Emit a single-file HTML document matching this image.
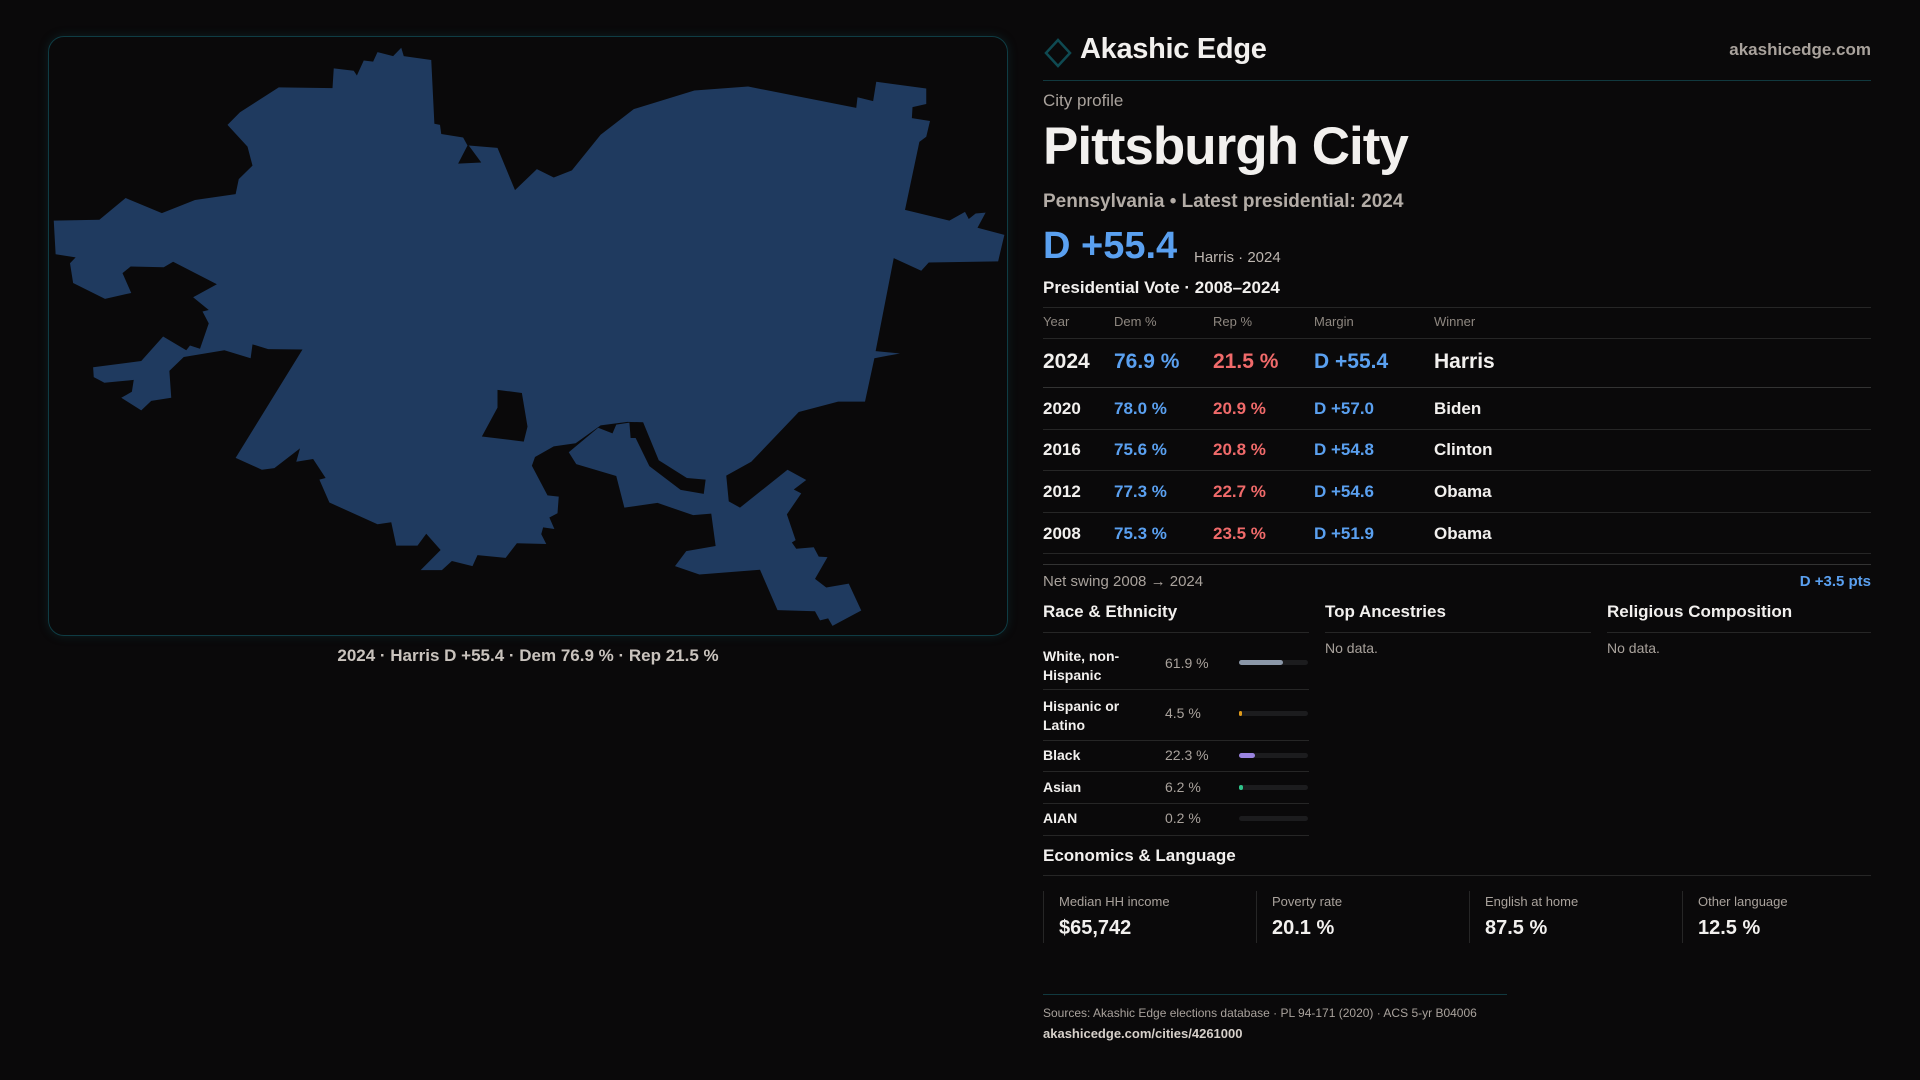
<!DOCTYPE html>
<html><head><meta charset="utf-8"><style>
*{margin:0;padding:0;box-sizing:border-box}
body{width:1920px;height:1080px;background:#0a090a;font-family:"Liberation Sans",sans-serif;color:#f2f0ee;position:relative;overflow:hidden}
.a{position:absolute;white-space:nowrap;line-height:1}
.panel{position:absolute;left:48px;top:36px;width:960px;height:600px;border:1px solid #0f3c44;border-radius:16px;box-shadow:0 0 10px rgba(20,90,100,.25)}
.hl{position:absolute;height:1px;background:#262626}
.blue{color:#5aa0f0}.red{color:#f06a6a}.muted{color:#a9a29c}
.bar{position:absolute;left:1239px;width:69px;height:5px;border-radius:3px;background:#1c1c1e}
.bar i{position:absolute;left:0;top:0;height:5px;border-radius:3px}
.card{position:absolute;top:891px;height:52px;border-left:1px solid #262626}
</style></head><body>
<div class="panel"></div>
<svg style="position:absolute;left:40px;top:30px" width="980" height="620" viewBox="0 0 1568 1568" preserveAspectRatio="none">
<path fill="#1f3a5f" fill-rule="evenodd" d="M22,482 L95,480 137,425 195,463 248,430 313,415 318,377 340,343 332,295 300,240 320,208 382,145 468,147 470,97 502,103 507,115 518,77 533,80 540,56 565,66 578,45 582,66 626,76 631,237 640,240 642,263 677,272 684,292 669,338 706,335 686,292 732,298 760,405 795,352 822,373 851,355 897,265 950,200 1047,153 1133,143 1306,197 1308,170 1333,180 1338,131 1418,148 1418,187 1396,195 1395,223 1424,230 1418,270 1407,283 1384,455 1455,482 1480,460 1486,478 1497,464 1513,462 1500,500 1543,518 1533,585 1422,588 1410,609 1366,577 1337,812 1376,818 1335,830 1320,940 1277,940 1214,966 1138,1092 1098,1127 1102,1192 1120,1208 1196,1112 1226,1138 1206,1162 1218,1172 1195,1225 1209,1290 1203,1296 1210,1312 1238,1308 1246,1332 1260,1333 1240,1388 1258,1410 1294,1400 1314,1468 1268,1507 1261,1488 1248,1493 1240,1470 1180,1467 1152,1365 1055,1377 1016,1356 1034,1318 1081,1305 1074,1223 1045,1227 988,1196 935,1208 922,1128 858,1098 846,1068 893,1006 916,1020 922,998 943,993 945,1032 953,1032 975,1103 1025,1163 1062,1173 1065,1137 1035,1133 990,1088 965,992 940,991 897,1000 857,1045 822,1053 792,1080 787,1102 812,1177 830,1180 828,1222 815,1233 823,1262 805,1258 802,1275 810,1300 763,1298 745,1335 700,1328 692,1356 659,1343 643,1366 609,1366 641,1315 618,1274 604,1304 570,1304 562,1245 540,1250 463,1195 447,1137 457,1133 437,1085 410,1092 416,1058 375,1108 355,1112 313,1082 420,808 365,807 340,795 337,830 295,810 230,827 207,862 210,930 178,938 162,962 130,930 147,915 150,885 103,892 86,878 85,853 162,837 197,775 234,810 240,798 256,806 270,742 260,712 270,708 245,676 283,643 213,586 198,600 145,598 132,615 146,665 104,680 53,640 48,590 57,575 25,567 Z M732,910 L771,918 780,1003 774,1041 707,1028 732,955 Z"/>
</svg>
<div class="a muted" style="left:0;width:1056px;text-align:center;top:647px;font-size:17px;font-weight:bold;color:#c9c3bd">2024 · Harris D +55.4 · Dem 76.9 % · Rep 21.5 %</div>

<svg style="position:absolute;left:1044px;top:38px" width="28" height="30"><polygon points="14,2 26,15 14,28 2,15" fill="none" stroke="#0f4a52" stroke-width="2.5"/></svg>
<div class="a" style="left:1080px;top:35px;font-size:29px;font-weight:bold;letter-spacing:-0.3px">Akashic Edge</div>
<div class="a" style="right:49px;top:41px;font-size:17px;font-weight:bold;color:#a9a29c">akashicedge.com</div>
<div class="hl" style="left:1043px;width:828px;top:80px;background:#11393f"></div>
<div class="a muted" style="left:1043px;top:92px;font-size:17px">City profile</div>
<div class="a" style="left:1043px;top:120px;font-size:53px;font-weight:bold;letter-spacing:-1px">Pittsburgh City</div>
<div class="a" style="left:1043px;top:192px;font-size:19px;font-weight:bold;color:#b3aca6">Pennsylvania • Latest presidential: 2024</div>
<div class="a blue" style="left:1043px;top:227px;font-size:38px;font-weight:bold">D +55.4</div>
<div class="a muted" style="left:1194px;top:250px;font-size:15px;color:#bdb6b0">Harris · 2024</div>
<div class="a" style="left:1043px;top:279px;font-size:17px;font-weight:bold">Presidential Vote · 2008–2024</div>
<div class="hl" style="left:1043px;width:828px;top:307px"></div>
<div class="a" style="left:1043px;top:315px;font-size:13px;color:#8e8780">Year</div>
<div class="a" style="left:1114px;top:315px;font-size:13px;color:#8e8780">Dem %</div>
<div class="a" style="left:1213px;top:315px;font-size:13px;color:#8e8780">Rep %</div>
<div class="a" style="left:1314px;top:315px;font-size:13px;color:#8e8780">Margin</div>
<div class="a" style="left:1434px;top:315px;font-size:13px;color:#8e8780">Winner</div>
<div class="hl" style="left:1043px;width:828px;top:338px"></div>
<div class="a" style="left:1043px;top:351px;font-size:21px;font-weight:bold">2024</div>
<div class="a blue" style="left:1114px;top:351px;font-size:21px;font-weight:bold">76.9 %</div>
<div class="a red" style="left:1213px;top:351px;font-size:21px;font-weight:bold">21.5 %</div>
<div class="a blue" style="left:1314px;top:351px;font-size:21px;font-weight:bold">D +55.4</div>
<div class="a" style="left:1434px;top:351px;font-size:21px;font-weight:bold">Harris</div>
<div class="hl" style="left:1043px;width:828px;top:387px;background:#333"></div>

<div class="a" style="left:1043px;top:400px;font-size:17px;font-weight:bold">2020</div>
<div class="a blue" style="left:1114px;top:400px;font-size:17px;font-weight:bold">78.0 %</div>
<div class="a red" style="left:1213px;top:400px;font-size:17px;font-weight:bold">20.9 %</div>
<div class="a blue" style="left:1314px;top:400px;font-size:17px;font-weight:bold">D +57.0</div>
<div class="a" style="left:1434px;top:400px;font-size:17px;font-weight:bold">Biden</div>
<div class="hl" style="left:1043px;width:828px;top:429px"></div>
<div class="a" style="left:1043px;top:441px;font-size:17px;font-weight:bold">2016</div>
<div class="a blue" style="left:1114px;top:441px;font-size:17px;font-weight:bold">75.6 %</div>
<div class="a red" style="left:1213px;top:441px;font-size:17px;font-weight:bold">20.8 %</div>
<div class="a blue" style="left:1314px;top:441px;font-size:17px;font-weight:bold">D +54.8</div>
<div class="a" style="left:1434px;top:441px;font-size:17px;font-weight:bold">Clinton</div>
<div class="hl" style="left:1043px;width:828px;top:470px"></div>
<div class="a" style="left:1043px;top:483px;font-size:17px;font-weight:bold">2012</div>
<div class="a blue" style="left:1114px;top:483px;font-size:17px;font-weight:bold">77.3 %</div>
<div class="a red" style="left:1213px;top:483px;font-size:17px;font-weight:bold">22.7 %</div>
<div class="a blue" style="left:1314px;top:483px;font-size:17px;font-weight:bold">D +54.6</div>
<div class="a" style="left:1434px;top:483px;font-size:17px;font-weight:bold">Obama</div>
<div class="hl" style="left:1043px;width:828px;top:512px"></div>
<div class="a" style="left:1043px;top:525px;font-size:17px;font-weight:bold">2008</div>
<div class="a blue" style="left:1114px;top:525px;font-size:17px;font-weight:bold">75.3 %</div>
<div class="a red" style="left:1213px;top:525px;font-size:17px;font-weight:bold">23.5 %</div>
<div class="a blue" style="left:1314px;top:525px;font-size:17px;font-weight:bold">D +51.9</div>
<div class="a" style="left:1434px;top:525px;font-size:17px;font-weight:bold">Obama</div>
<div class="hl" style="left:1043px;width:828px;top:553px"></div>
<div class="hl" style="left:1043px;width:828px;top:564px;background:#333"></div>

<div class="a muted" style="left:1043px;top:574px;font-size:15px">Net swing 2008 → 2024</div>
<div class="a blue" style="right:49px;top:574px;font-size:15px;font-weight:bold">D +3.5 pts</div>

<div class="a" style="left:1043px;top:603px;font-size:17px;font-weight:bold">Race &amp; Ethnicity</div>
<div class="a" style="left:1325px;top:603px;font-size:17px;font-weight:bold">Top Ancestries</div>
<div class="a" style="left:1607px;top:603px;font-size:17px;font-weight:bold">Religious Composition</div>
<div class="hl" style="left:1043px;width:266px;top:632px"></div>
<div class="hl" style="left:1325px;width:266px;top:632px"></div>
<div class="hl" style="left:1607px;width:264px;top:632px"></div>
<div class="a muted" style="left:1325px;top:641px;font-size:14px">No data.</div>
<div class="a muted" style="left:1607px;top:641px;font-size:14px">No data.</div>

<div class="a" style="left:1043px;top:647px;font-size:14px;font-weight:bold;line-height:19px;white-space:normal;width:110px">White, non-<br>Hispanic</div>
<div class="a muted" style="left:1165px;top:656px;font-size:14px">61.9 %</div>
<div class="bar" style="top:660px"><i style="width:44px;background:#8b97a8"></i></div>
<div class="hl" style="left:1043px;width:266px;top:689px"></div>
<div class="a" style="left:1043px;top:697px;font-size:14px;font-weight:bold;line-height:19px;white-space:normal;width:110px">Hispanic or<br>Latino</div>
<div class="a muted" style="left:1165px;top:706px;font-size:14px">4.5 %</div>
<div class="bar" style="top:711px"><i style="width:3px;background:#e09a1a"></i></div>
<div class="hl" style="left:1043px;width:266px;top:740px"></div>
<div class="a" style="left:1043px;top:748px;font-size:14px;font-weight:bold">Black</div>
<div class="a muted" style="left:1165px;top:748px;font-size:14px">22.3 %</div>
<div class="bar" style="top:753px"><i style="width:16px;background:#9a84e0"></i></div>
<div class="hl" style="left:1043px;width:266px;top:771px"></div>
<div class="a" style="left:1043px;top:780px;font-size:14px;font-weight:bold">Asian</div>
<div class="a muted" style="left:1165px;top:780px;font-size:14px">6.2 %</div>
<div class="bar" style="top:785px"><i style="width:4px;background:#2fc48a"></i></div>
<div class="hl" style="left:1043px;width:266px;top:803px"></div>
<div class="a" style="left:1043px;top:811px;font-size:14px;font-weight:bold">AIAN</div>
<div class="a muted" style="left:1165px;top:811px;font-size:14px">0.2 %</div>
<div class="bar" style="top:816px"></div>
<div class="hl" style="left:1043px;width:266px;top:835px"></div>

<div class="a" style="left:1043px;top:847px;font-size:17px;font-weight:bold">Economics &amp; Language</div>
<div class="hl" style="left:1043px;width:828px;top:875px"></div>
<div class="card" style="left:1043px"></div>
<div class="card" style="left:1256px"></div>
<div class="card" style="left:1469px"></div>
<div class="card" style="left:1682px"></div>
<div class="a muted" style="left:1059px;top:895px;font-size:13px">Median HH income</div>
<div class="a" style="left:1059px;top:918px;font-size:20px;font-weight:bold">$65,742</div>
<div class="a muted" style="left:1272px;top:895px;font-size:13px">Poverty rate</div>
<div class="a" style="left:1272px;top:918px;font-size:20px;font-weight:bold">20.1 %</div>
<div class="a muted" style="left:1485px;top:895px;font-size:13px">English at home</div>
<div class="a" style="left:1485px;top:918px;font-size:20px;font-weight:bold">87.5 %</div>
<div class="a muted" style="left:1698px;top:895px;font-size:13px">Other language</div>
<div class="a" style="left:1698px;top:918px;font-size:20px;font-weight:bold">12.5 %</div>

<div class="hl" style="left:1043px;width:464px;top:994px;background:#11393f"></div>
<div class="a muted" style="left:1043px;top:1007px;font-size:12px">Sources: Akashic Edge elections database · PL 94-171 (2020) · ACS 5-yr B04006</div>
<div class="a" style="left:1043px;top:1027px;font-size:13px;font-weight:bold;color:#d6d0ca">akashicedge.com/cities/4261000</div>
</body></html>
